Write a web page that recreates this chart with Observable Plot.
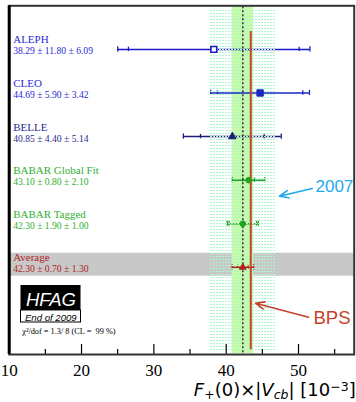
<!DOCTYPE html>
<html><head><meta charset="utf-8">
<script src="https://cdn.jsdelivr.net/npm/d3@7"></script>
<script src="https://cdn.jsdelivr.net/npm/@observablehq/plot@0.6"></script>
<style>body{margin:0;background:#fff}</style>
</head><body><div id="chart"></div>
<script>
// ---- data ----
const experiments = ["ALEPH", "CLEO", "BELLE", "BABAR Global Fit", "BABAR Tagged", "Average"];
const centralValues = [38.29, 44.69, 40.85, 43.10, 42.30, 42.30];
const statErrors = [11.80, 5.90, 4.40, 0.80, 1.90, 0.70];
const systErrors = [6.09, 3.42, 5.14, 2.10, 1.00, 1.30];
const majorTicks = [10, 20, 30, 40, 50];
const minorTicks = [15, 25, 35, 45, 55];
const bpsValue = [43.4];
const hatchBand = [[37.75, 46.96]];
const chi2Text = ["\u03C7\u00B2/dof = 1.3/ 8 (CL =  99 %)"];

// ---- styles ----
const colorOf = {
  "ALEPH": "#2a2ad6", "CLEO": "#2a2ad6", "BELLE": "#2b2b8c",
  "BABAR Global Fit": "#2fb02f", "BABAR Tagged": "#2fb02f", "Average": "#b02525"
};
const barColorOf = {
  "ALEPH": "#1a1ac8", "CLEO": "#1a2ac0", "BELLE": "#1c1c78",
  "BABAR Global Fit": "#22a022", "BABAR Tagged": "#22a022", "Average": "#b01e1e"
};

const rows = experiments.map((name, i) => {
  const v = centralValues[i], s = statErrors[i], y = systErrors[i];
  return {
    name, row: i + 1, value: v, stat: s, syst: y, tot: Math.hypot(s, y),
    label: `${v.toFixed(2)} \u00B1 ${s.toFixed(2)} \u00B1 ${y.toFixed(2)}`
  };
});
const avg = rows.find(d => d.name === "Average");
const errTicks = rows.flatMap(d => [
  {name: d.name, row: d.row, x: d.value - d.tot, h: 0.06},
  {name: d.name, row: d.row, x: d.value - d.stat, h: 0.05},
  {name: d.name, row: d.row, x: d.value + d.stat, h: 0.05},
  {name: d.name, row: d.row, x: d.value + d.tot, h: 0.06}
]);

const serif = "Liberation Serif, Times New Roman, serif";
const sans = "Liberation Sans, Arial, sans-serif";

const dotStyles = [
  {name: "ALEPH", symbol: "square", r: 3.3, fill: "white", strokeWidth: 1.6},
  {name: "CLEO", symbol: "square", r: 3.6},
  {name: "BELLE", symbol: "triangle", r: 2.8},
  {name: "BABAR Global Fit", symbol: "circle", r: 2.8},
  {name: "BABAR Tagged", symbol: "circle", r: 2.8},
  {name: "Average", symbol: "triangle", r: 2.5}
];

const chart = Plot.plot({
  width: 356, height: 402,
  marginLeft: 8.7, marginRight: 2.3, marginTop: 5.3, marginBottom: 48,
  x: {domain: [10, 57.7], axis: null},
  y: {domain: [0, 8], reverse: true, axis: null},
  color: {type: "identity"},
  style: {background: "white"},
  marks: [
    Plot.rect([avg], {x1: 10, x2: 57.7, y1: d => d.row - 0.324, y2: d => d.row + 0.204, fill: "#c8c8c8"}),
    Plot.rect([avg], {x1: d => d.value - d.tot, x2: d => d.value + d.tot, y1: 0.039, y2: 7.977, fill: "#c6fca8"}),
    Plot.ruleY(rows, {y: "row", x1: d => d.value - d.tot, x2: d => d.value + d.tot, stroke: d => barColorOf[d.name], strokeWidth: 1.5}),
    Plot.ruleX(errTicks, {x: "x", y1: d => d.row - d.h, y2: d => d.row + d.h, stroke: d => barColorOf[d.name], strokeWidth: 1.3}),
    Plot.rect(hatchBand, {x1: d => d[0], x2: d => d[1], y1: 0.085, y2: 7.954, fill: "url(#hatch)"}),
    Plot.ruleX([avg], {x: "value", y1: 0.02, y2: 8, stroke: "#333", strokeWidth: 1.5, strokeDasharray: "2,2"}),
    Plot.ruleX(bpsValue, {x: d => d, y1: 0.59, y2: 7.892, stroke: "#c6432c", strokeWidth: 2}),
    ...dotStyles.map(s => Plot.dot(rows.filter(d => d.name === s.name), {
      x: "value", y: "row", symbol: s.symbol, r: s.r,
      fill: s.fill || barColorOf[s.name], stroke: barColorOf[s.name], strokeWidth: s.strokeWidth || 1
    })),
    Plot.text(rows, {x: 10, y: "row", text: "name", dx: 4, dy: -6, textAnchor: "start", lineAnchor: "bottom",
      fill: d => colorOf[d.name], fontSize: 11, fontFamily: serif}),
    Plot.text(rows, {x: 10, y: "row", text: "label", dx: 4, dy: 5, textAnchor: "start", lineAnchor: "bottom",
      fill: d => colorOf[d.name], fontSize: 9.6, fontFamily: serif}),
    Plot.ruleX(majorTicks, {x: d => d, y1: 8, y2: 7.77, stroke: "black", strokeWidth: 1.2}),
    Plot.ruleX(minorTicks, {x: d => d, y1: 8, y2: 7.885, stroke: "black", strokeWidth: 1.2}),
    Plot.text(majorTicks, {x: d => d, y: 8, dy: 21.5, lineAnchor: "bottom", text: d => String(d),
      fontSize: 17, fontFamily: serif, fill: "black"}),
    Plot.text(["F+(0)\u00D7|Vcb| [10-3]"], {frameAnchor: "bottom-right", dx: 1.5, dy: 41.5, textAnchor: "end",
      lineAnchor: "bottom", fontSize: 18, fontFamily: "DejaVu Sans, sans-serif", fill: "black"}),
    Plot.frame({stroke: "#333", strokeWidth: 2}),
    Plot.ruleX([10], {y1: 0, y2: 8, stroke: "black", strokeWidth: 3}),
    Plot.rect([0], {x1: 11.63, x2: 19.93, y1: 6.417, y2: 6.99, fill: "black"}),
    Plot.rect([0], {x1: 11.63, x2: 19.93, y1: 6.99, y2: 7.266, fill: "white", stroke: "black", strokeWidth: 1}),
    Plot.text(["HFAG"], {x: 15.78, y: 6.876, lineAnchor: "bottom", fill: "white", fontSize: 18.5,
      fontStyle: "italic", fontFamily: sans}),
    Plot.text(["End of 2009"], {x: 15.75, y: 7.22, lineAnchor: "bottom", fill: "black", fontSize: 9.6,
      fontStyle: "italic", fontFamily: sans}),
    Plot.text(chi2Text, {x: 11.8, y: 7.541, lineAnchor: "bottom", textAnchor: "start", fill: "black",
      fontSize: 8.3, fontFamily: serif}),
    Plot.arrow([0], {x1: 51.89, y1: 4.191, x2: 47.37, y2: 4.368, stroke: "#1fa8ee", strokeWidth: 1.6, headLength: 9, headAngle: 45}),
    Plot.text(["2007"], {x: 52.35, y: 4.283, lineAnchor: "bottom", textAnchor: "start", fill: "#1fa8ee",
      fontSize: 17, fontFamily: sans}),
    Plot.arrow([0], {x1: 51.38, y1: 7.144, x2: 44.06, y2: 6.823, stroke: "#c6432c", strokeWidth: 1.6, headLength: 9, headAngle: 45}),
    Plot.text(["BPS"], {x: 52.07, y: 7.289, lineAnchor: "bottom", textAnchor: "start", fill: "#c6432c",
      fontSize: 18.5, fontFamily: sans})
  ]
});

const svg = d3.select(chart);
const defs = svg.insert("defs", ":first-child");
const pat = defs.append("pattern").attr("id", "hatch").attr("patternUnits", "userSpaceOnUse")
  .attr("width", 3).attr("height", 3);
pat.append("rect").attr("x", 0).attr("y", 1).attr("width", 2).attr("height", 1).attr("fill", "#aef4cf");

svg.selectAll("text").each(function () {
  if (this.textContent === "F+(0)\u00D7|Vcb| [10-3]") {
    this.innerHTML =
      '<tspan font-style="italic">F</tspan><tspan font-size="12.5" dy="3">+</tspan>' +
      '<tspan dy="-3">(0)\u00D7|</tspan><tspan font-style="italic">V</tspan>' +
      '<tspan font-style="italic" font-size="12.5" dy="3">cb</tspan><tspan dy="-3">| [10</tspan>' +
      '<tspan font-size="12.5" dy="-5">\u22123</tspan><tspan dy="5">]</tspan>';
  }
});

document.getElementById("chart").appendChild(chart);
</script>
</body></html>
